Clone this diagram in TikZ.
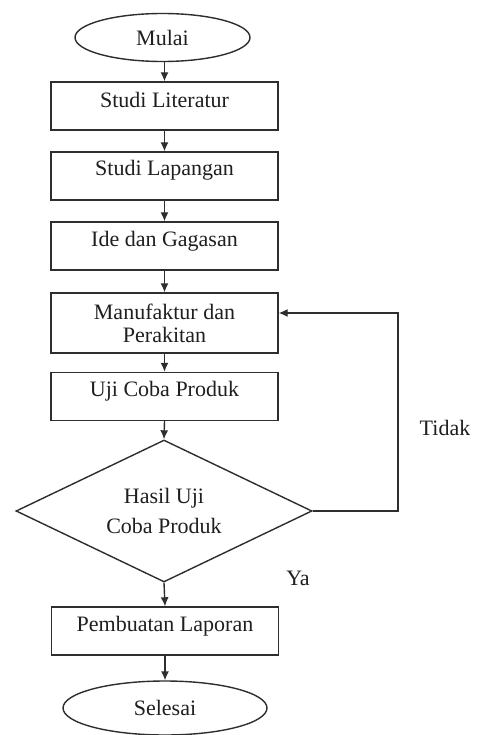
\documentclass[tikz,border=0pt]{standalone}
\usepackage{fontspec}
\setmainfont{Liberation Serif}
\usetikzlibrary{shapes.geometric,arrows.meta}
\begin{document}
\begin{tikzpicture}[x=1pt,y=-1pt,
  every node/.style={font=\fontsize{22}{23}\selectfont, text=black!88},
  line/.style={draw=black!82, line width=1.4pt},
  stepbox/.style={line, rectangle, minimum width=227pt, minimum height=48pt, inner sep=0pt},
  onerow/.style={text height=15pt, text depth=15pt},
  term/.style={line, ellipse, inner sep=0pt},
  decision/.style={line, diamond, aspect=2, minimum width=296pt, minimum height=142pt, inner sep=0pt, align=center},
  arr/.style={line, -{Latex[length=9pt,width=8pt]}},
  lbl/.style={inner sep=0pt}]
\fill[white] (0,0) rectangle (477,735);
\useasboundingbox (0,0) rectangle (477,735);

\node[term, minimum width=175pt, minimum height=48pt] (start) at (162.5,37.5) {Mulai};
\node[stepbox, onerow, text depth=12pt] (b1) at (164.5,106) {Studi Literatur};
\node[stepbox, onerow] (b2) at (164.5,176) {Studi Lapangan};
\node[stepbox, onerow] (b3) at (164.5,246) {Ide dan Gagasan};
\node[stepbox, minimum height=60pt, align=center] (b4) at (164.5,323) {Manufaktur dan\\Perakitan};
\node[stepbox, onerow] (b5) at (164.5,396.5) {Uji Coba Produk};
\node[decision] (dec) at (164,511) {Hasil Uji\\[7pt]Coba Produk};
\node[stepbox, onerow] (b6) at (165,631) {Pembuatan Laporan};
\node[term, minimum width=204pt, minimum height=54pt] (end) at (165,708) {Selesai};

\node[lbl] (tidak) at (445,428) {Tidak};
\node[lbl] (ya) at (298,578) {Ya};

\coordinate (c1) at (398,511);
\coordinate (c2) at (398,313);

\draw[arr] (start.south -| b1.north) -- (b1.north);
\draw[arr] (b1) -- (b2);
\draw[arr] (b2) -- (b3);
\draw[arr] (b3) -- (b4);
\draw[arr] (b4) -- (b5);
\draw[arr] (b5.south) -- (dec.north);
\draw[arr] (dec.south) -- (b6.north);
\draw[arr] (b6.south) -- (end.north);
\draw[arr] (dec.east) -- (c1) -- (c2) -- (c2 -| b4.east);
\end{tikzpicture}
\end{document}
